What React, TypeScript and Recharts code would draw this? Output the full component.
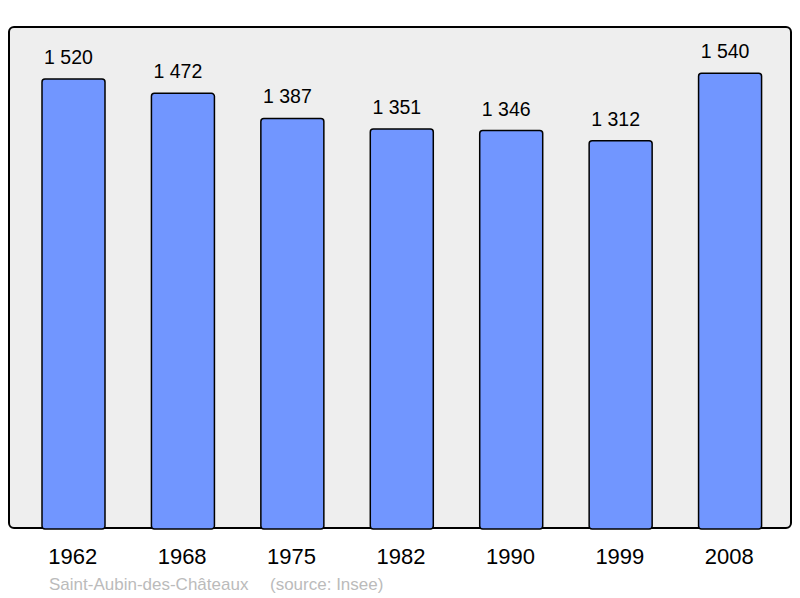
import React from "react";
import { BarChart, Bar, XAxis, YAxis, LabelList } from "recharts";

const years = ["1962", "1968", "1975", "1982", "1990", "1999", "2008"];
const population = [1520, 1472, 1387, 1351, 1346, 1312, 1540];
const caption = "Saint-Aubin-des-Châteaux";
const source = "(source: Insee)";

const data = years.map((y, i) => ({ year: y, pop: population[i] }));

const FONT = "'Liberation Sans', Arial, sans-serif";

const fmt = (v: number) => {
  const s = String(v);
  return s.replace(/\B(?=(\d{3})+(?!\d))/g, " ");
};

const Tick = (props: any) => {
  const { x, y, payload } = props;
  return (
    <text x={x - 1} y={y + 35} textAnchor="middle" fontSize={22} fontFamily={FONT} fill="#000">
      {payload.value}
    </text>
  );
};

const Label = (props: any) => {
  const { x, y, width, value } = props;
  return (
    <text
      x={Number(x) + Number(width) / 2 - 5}
      y={Number(y) - 15}
      textAnchor="middle"
      fontSize={19.5}
      fontFamily={FONT}
      fill="#000"
    >
      {fmt(Number(value))}
    </text>
  );
};

export default function App() {
  return (
    <div style={{ position: "absolute", left: 0, top: 0, width: 800, height: 598, background: "#fff" }}>
      <div
        style={{
          position: "absolute",
          left: 8,
          top: 26,
          width: 784,
          height: 503,
          boxSizing: "border-box",
          border: "2px solid #000",
          borderRadius: 6,
          background: "#eeeeee",
        }}
      />
      <div style={{ position: "absolute", left: 0, top: 0 }}>
        <BarChart
          width={800}
          height={598}
          data={data}
          margin={{ top: 27, right: 8, left: 10, bottom: 29 }}
        >
          <XAxis
            dataKey="year"
            height={40}
            axisLine={false}
            tickLine={false}
            tickSize={0}
            tickMargin={0}
            padding={{ left: 9, right: 7 }}
            tick={<Tick />}
            interval={0}
          />
          <YAxis hide domain={[0, 1696]} />
          <Bar
            dataKey="pop"
            fill="#7196ff"
            stroke="#000"
            strokeWidth={1.5}
            radius={3}
            barSize={63}
            isAnimationActive={false}
          >
            <LabelList dataKey="pop" content={<Label />} />
          </Bar>
        </BarChart>
      </div>
      <svg width={800} height={598} style={{ position: "absolute", left: 0, top: 0, pointerEvents: "none" }}>
        <text x={49} y={590} fontSize={17} fontFamily={FONT} fill="#bbbbbb">
          {caption}
        </text>
        <text x={270} y={590} fontSize={17} fontFamily={FONT} fill="#bbbbbb">
          {source}
        </text>
      </svg>
    </div>
  );
}
